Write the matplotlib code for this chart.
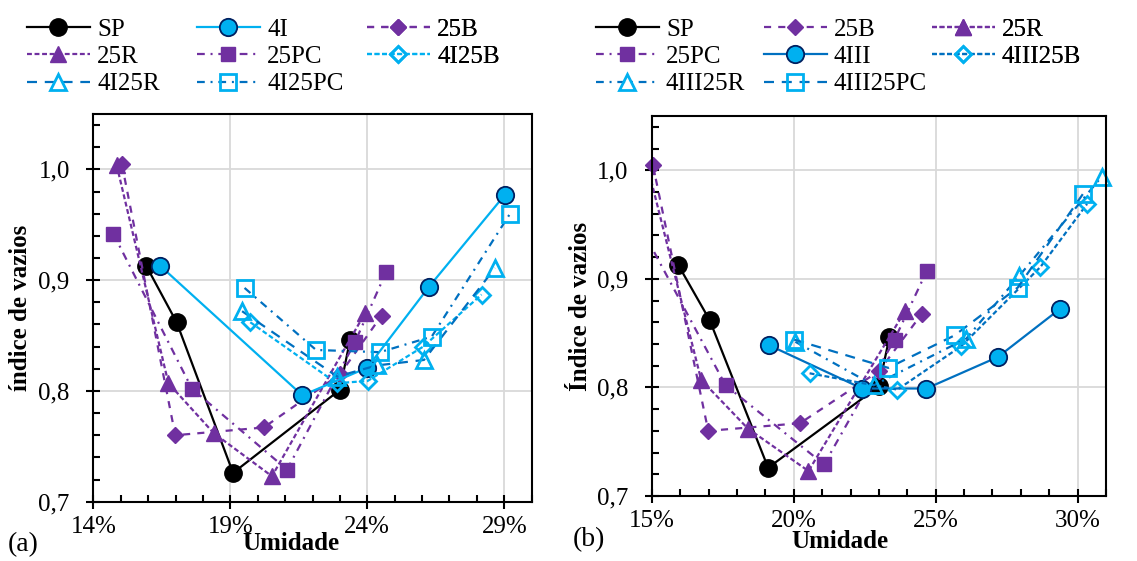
import matplotlib
matplotlib.use('Agg')
import matplotlib.pyplot as plt
from matplotlib.ticker import MultipleLocator, FuncFormatter

plt.rcParams['font.family'] = ['Liberation Serif', 'DejaVu Serif']
plt.rcParams['font.size'] = 18

# umidade (%) e indice de vazios
sp_w = [15.93, 17.04, 19.10, 23.00, 23.37]
sp_e = [0.913, 0.862, 0.726, 0.801, 0.846]
b25_w = [15.04, 16.99, 20.22, 23.00, 24.52]
b25_e = [1.005, 0.760, 0.767, 0.815, 0.868]
r25_w = [14.85, 16.74, 18.39, 20.52, 23.91]
r25_e = [1.004, 0.807, 0.762, 0.723, 0.870]
pc25_w = [14.73, 17.60, 21.07, 23.55, 24.68]
pc25_e = [0.942, 0.802, 0.729, 0.844, 0.907]

i4_w = [16.44, 21.63, 24.00, 26.25, 29.02]
i4_e = [0.913, 0.796, 0.821, 0.894, 0.977]
i4b_w = [19.73, 22.88, 24.01, 26.04, 28.17]
i4b_e = [0.862, 0.807, 0.809, 0.840, 0.887]
i4r_w = [19.43, 22.90, 24.34, 26.07, 28.66]
i4r_e = [0.872, 0.813, 0.823, 0.828, 0.911]
i4pc_w = [19.52, 22.13, 24.46, 26.35, 29.21]
i4pc_e = [0.893, 0.837, 0.835, 0.849, 0.960]

iii_w = [19.12, 22.41, 24.67, 27.19, 29.36]
iii_e = [0.839, 0.799, 0.799, 0.828, 0.872]
iiib_w = [20.56, 23.65, 25.90, 28.69, 30.33]
iiib_e = [0.813, 0.798, 0.838, 0.911, 0.969]
iiir_w = [20.06, 22.82, 26.08, 27.95, 30.84]
iiir_e = [0.842, 0.802, 0.845, 0.903, 0.994]
iiipc_w = [20.02, 23.33, 25.67, 27.89, 30.18]
iiipc_e = [0.844, 0.818, 0.848, 0.892, 0.978]

PURPLE = '#7030A0'
LBLUE = '#00B0F0'
DBLUE = '#0070C0'
NAVY = '#002060'
LW = 1.6

LONG = (3.2, 3.2)
SHORT = (2.2, 1.2)
DASHDOT = (3.5, 2.6, 0.9, 2.6)
LONG2 = (4.5, 3.5)


def line(ax, xmin, w, e, **kw):
    # markers on the frame are drawn whole, unless the series leaves the axes
    l, = ax.plot(w, e, lw=LW, clip_on=min(w) < xmin, **kw)
    return l


def common(ax, xmin):
    d = {}
    d['SP'] = line(ax, xmin, sp_w, sp_e, color='black', marker='o', ms=12.5,
                   mfc='black', mec='black')
    d['25B'] = line(ax, xmin, b25_w, b25_e, color=PURPLE, dashes=LONG, marker='D',
                    ms=8.5, mfc=PURPLE, mec=PURPLE)
    d['25R'] = line(ax, xmin, r25_w, r25_e, color=PURPLE, dashes=SHORT, marker='^',
                    ms=12, mfc=PURPLE, mec=PURPLE)
    d['25PC'] = line(ax, xmin, pc25_w, pc25_e, color=PURPLE, dashes=DASHDOT, marker='s',
                     ms=10.5, mfc=PURPLE, mec=PURPLE)
    return d


def style(ax, xmin, ylabel):
    ax.set_xlim(xmin, xmin + 16)
    ax.set_ylim(0.7, 1.05)
    ax.set_xticks([xmin, xmin + 5, xmin + 10, xmin + 15])
    ax.xaxis.set_minor_locator(MultipleLocator(1))
    ax.yaxis.set_major_locator(MultipleLocator(0.1))
    ax.yaxis.set_minor_locator(MultipleLocator(0.02))
    ax.xaxis.set_major_formatter(FuncFormatter(lambda v, p: f"{v:.0f}%"))
    ax.yaxis.set_major_formatter(FuncFormatter(lambda v, p: f"{v:.1f}".replace('.', ',')))
    ax.grid(True, which='major', color='#d9d9d9', lw=1.3)
    ax.set_axisbelow(True)
    ax.tick_params(which='major', direction='inout', length=10, width=1.5, labelsize=18)
    ax.tick_params(axis='x', which='major', pad=5)
    ax.tick_params(axis='y', which='major', pad=12)
    ax.tick_params(which='minor', direction='in', length=5, width=1.5)
    for s in ax.spines.values():
        s.set_linewidth(1.5)
        s.set_color('black')
    ax.set_ylabel(ylabel, fontweight='bold', fontsize=18)


def legend_cols(ax, handles, cols, x0, step):
    # one legend per column so that the columns have equal width
    for i, names in enumerate(cols):
        leg = ax.legend([handles[k] for k in names], names, frameon=False, loc='upper left',
                        borderpad=0, borderaxespad=0, handlelength=2.5, handletextpad=0.3,
                        labelspacing=0.2, fontsize=18, bbox_transform=fig.transFigure,
                        bbox_to_anchor=((x0 + i * step) / 1137, 1 - 18 / 561))
        ax.add_artist(leg)


fig = plt.figure(figsize=(11.37, 5.61), dpi=100)
ax1 = fig.add_axes([0.0821, 0.1057, 0.3855, 0.691])
ax2 = fig.add_axes([0.5732, 0.1159, 0.3996, 0.6773])

# (a)
h1 = common(ax1, 14)
h1['4I'] = line(ax1, 14, i4_w, i4_e, color=LBLUE, marker='o', ms=12.5,
                mfc=LBLUE, mec=NAVY, mew=1.3)
h1['4I25B'] = line(ax1, 14, i4b_w, i4b_e, color=LBLUE, dashes=SHORT, marker='D',
                   ms=8.5, mfc='none', mec=LBLUE, mew=2)
h1['4I25R'] = line(ax1, 14, i4r_w, i4r_e, color=DBLUE, dashes=LONG2, marker='^',
                   ms=12, mfc='none', mec=LBLUE, mew=2)
h1['4I25PC'] = line(ax1, 14, i4pc_w, i4pc_e, color=DBLUE, dashes=DASHDOT, marker='s',
                    ms=11, mfc='none', mec=LBLUE, mew=2)
style(ax1, 14, 'índice de vazios')
ax1.yaxis.set_label_coords(-0.14, 0.5)

# (b)
h2 = common(ax2, 15)
h2['4III'] = line(ax2, 15, iii_w, iii_e, color=DBLUE, marker='o', ms=12.5,
                  mfc=LBLUE, mec=NAVY, mew=1.3)
h2['4III25B'] = line(ax2, 15, iiib_w, iiib_e, color=DBLUE, dashes=SHORT, marker='D',
                     ms=8.5, mfc='none', mec=LBLUE, mew=2)
h2['4III25R'] = line(ax2, 15, iiir_w, iiir_e, color=DBLUE, dashes=DASHDOT, marker='^',
                     ms=12, mfc='none', mec=LBLUE, mew=2)
h2['4III25PC'] = line(ax2, 15, iiipc_w, iiipc_e, color=DBLUE, dashes=LONG2, marker='s',
                      ms=11, mfc='none', mec=LBLUE, mew=2)
style(ax2, 15, 'Índice de vazios')
ax2.yaxis.set_label_coords(-0.131, 0.5)

legend_cols(ax1, h1, [['SP', '25R', '4I25R'], ['4I', '25PC', '4I25PC'], ['25B', '4I25B']],
            27, 170)
legend_cols(ax2, h2, [['SP', '25PC', '4III25R'], ['25B', '4III', '4III25PC'],
                      ['25R', '4III25B']], 596, 168)

fig.text(291 / 1137, 1 - 543 / 561, 'Umidade', fontweight='bold', fontsize=18,
         ha='center', va='center')
fig.text(840 / 1137, 1 - 541 / 561, 'Umidade', fontweight='bold', fontsize=18,
         ha='center', va='center')
fig.text(8 / 1137, 1 - 545 / 561, '(a)', fontsize=20, ha='left', va='center')
fig.text(573 / 1137, 1 - 540 / 561, '(b)', fontsize=20, ha='left', va='center')

fig.savefig('out.png', dpi=100)
